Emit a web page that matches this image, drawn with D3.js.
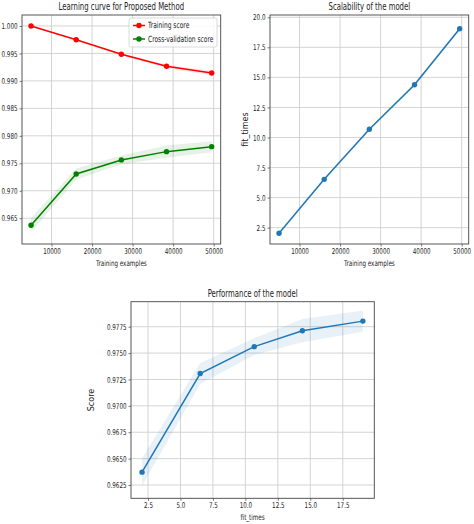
<!DOCTYPE html>
<html>
<head>
<meta charset="utf-8">
<script src="https://cdn.jsdelivr.net/npm/d3@7"></script>
<style>
  body { margin: 0; background: #fff; }
  text { font-family: "DejaVu Sans", sans-serif; fill: #222; }
</style>
</head>
<body>
<svg id="fig" width="474" height="524"></svg>
<script>
// learning curve data
var trainSizes = [4950, 16087, 27225, 38362, 49500];
var trainMean = [1.0000, 0.9975, 0.99485, 0.99266, 0.99145];
var trainStd = [0.00005, 0.0001, 0.0002, 0.0003, 0.0004];
var testMean = [0.96372, 0.97306, 0.97561, 0.97712, 0.97803];
var testStd = [0.0013, 0.0010, 0.0008, 0.0011, 0.0010];
var fitMean = [2.04, 6.52, 10.68, 14.39, 19.05];
var fitStd = [0.06, 0.10, 0.12, 0.14, 0.12];

var sizeTicks = [10000, 20000, 30000, 40000, 50000];
var scoreTicks = [0.965, 0.970, 0.975, 0.980, 0.985, 0.990, 0.995, 1.000];
var fitTicks = [2.5, 5.0, 7.5, 10.0, 12.5, 15.0, 17.5, 20.0];
var perfXTicks = [2.5, 5.0, 7.5, 10.0, 12.5, 15.0, 17.5];
var perfYTicks = [0.9625, 0.9650, 0.9675, 0.9700, 0.9725, 0.9750, 0.9775];

var RED = "#ff0000", GREEN = "#008000", BLUE = "#1f77b4";
var SQ = 0.7; // the picture is squeezed horizontally

var svg = d3.select("#fig");

// squeeze a text horizontally around its own anchor point
function squeeze(sel, k) {
    sel.each(function () {
        var x0 = +(this.getAttribute("x") || 0);
        d3.select(this).attr("transform",
            "translate(" + x0 + ",0) scale(" + k + ",1) translate(" + (-x0) + ",0)");
    });
}

function makePanel(p) {
    var g = svg.append("g");
    var x = d3.scaleLinear().domain(p.xdom).range([p.left, p.right]);
    var y = d3.scaleLinear().domain(p.ydom).range([p.bottom, p.top]);

    // grid
    g.selectAll(".vgrid").data(p.xticks).enter().append("line")
        .attr("x1", function (d) { return x(d); }).attr("x2", function (d) { return x(d); })
        .attr("y1", p.top).attr("y2", p.bottom)
        .attr("stroke", "#cfcfcf").attr("stroke-width", 0.9);
    g.selectAll(".hgrid").data(p.yticks).enter().append("line")
        .attr("y1", function (d) { return y(d); }).attr("y2", function (d) { return y(d); })
        .attr("x1", p.left).attr("x2", p.right)
        .attr("stroke", "#cfcfcf").attr("stroke-width", 0.9);

    var xa = g.append("g").attr("transform", "translate(0," + p.bottom + ")")
        .call(d3.axisBottom(x).tickValues(p.xticks).tickFormat(p.xfmt).tickSize(2.5).tickPadding(2));
    var ya = g.append("g").attr("transform", "translate(" + p.left + ",0)")
        .call(d3.axisLeft(y).tickValues(p.yticks).tickFormat(p.yfmt).tickSize(2.5).tickPadding(2));
    [xa, ya].forEach(function (a) {
        a.select(".domain").remove();
        a.selectAll("line").attr("stroke", "#444").attr("stroke-width", 0.7);
        a.selectAll("text").attr("font-size", 8).attr("font-family", "DejaVu Sans").attr("fill", "#222");
        squeeze(a.selectAll("text"), SQ);
    });

    // frame
    g.append("rect").attr("x", p.left).attr("y", p.top)
        .attr("width", p.right - p.left).attr("height", p.bottom - p.top)
        .attr("fill", "none").attr("stroke", "#444").attr("stroke-width", 0.9);

    // series
    p.series.forEach(function (s) {
        var pts = s.xs.map(function (v, i) { return { x: v, m: s.mean[i], sd: s.std[i] }; });
        var area = d3.area().x(function (d) { return x(d.x); })
            .y0(function (d) { return y(d.m - d.sd); }).y1(function (d) { return y(d.m + d.sd); });
        var line = d3.line().x(function (d) { return x(d.x); }).y(function (d) { return y(d.m); });
        g.append("path").datum(pts).attr("d", area).attr("fill", s.color).attr("fill-opacity", 0.1);
        g.append("path").datum(pts).attr("d", line).attr("fill", "none")
            .attr("stroke", s.color).attr("stroke-width", 1.5);
        g.selectAll(null).data(pts).enter().append("circle")
            .attr("cx", function (d) { return x(d.x); }).attr("cy", function (d) { return y(d.m); })
            .attr("r", 2.7).attr("fill", s.color);
    });

    // title and labels
    var t = g.append("text").attr("x", (p.left + p.right) / 2).attr("y", p.top - 5)
        .attr("text-anchor", "middle").attr("font-size", 10.5).text(p.title);
    squeeze(t, 0.66);
    var xl = g.append("text").attr("x", (p.left + p.right) / 2).attr("y", p.bottom + 22)
        .attr("text-anchor", "middle").attr("font-size", 8).text(p.xlabel);
    squeeze(xl, SQ);
    if (p.ylabel) {
        g.append("text")
            .attr("transform", "translate(" + p.ylabelX + "," + (p.top + p.bottom) / 2 + ") rotate(-90)")
            .attr("text-anchor", "middle").attr("font-size", 8).text(p.ylabel);
    }
    return { g: g, x: x, y: y };
}

var fmt3 = d3.format(".3f"), fmt1 = d3.format(".1f"), fmt4 = d3.format(".4f"), fmt0 = d3.format("d");

var lc = makePanel({
    left: 22, right: 220.7, top: 15, bottom: 244,
    xdom: [2722, 51727], ydom: [0.9603, 1.002],
    xticks: sizeTicks, yticks: scoreTicks, xfmt: fmt0, yfmt: fmt3,
    title: "Learning curve for Proposed Method", xlabel: "Training examples",
    series: [
        { xs: trainSizes, mean: trainMean, std: trainStd, color: RED },
        { xs: trainSizes, mean: testMean, std: testStd, color: GREEN }
    ]
});

// legend
var legendItems = [{ name: "Training score", color: RED }, { name: "Cross-validation score", color: GREEN }];
var lg = lc.g.append("g").attr("transform", "translate(129,18)");
lg.append("rect").attr("width", 88).attr("height", 29).attr("rx", 2)
    .attr("fill", "#fff").attr("fill-opacity", 0.85).attr("stroke", "#d0d0d0").attr("stroke-width", 0.8);
var li = lg.selectAll(".li").data(legendItems).enter().append("g")
    .attr("transform", function (d, i) { return "translate(0," + (7.5 + i * 13.5) + ")"; });
li.append("line").attr("x1", 4).attr("x2", 16).attr("stroke", function (d) { return d.color; }).attr("stroke-width", 1.5);
li.append("circle").attr("cx", 10).attr("r", 2.7).attr("fill", function (d) { return d.color; });
var lt = li.append("text").attr("x", 19).attr("dy", "0.35em").attr("font-size", 8.5)
    .text(function (d) { return d.name; });
squeeze(lt, SQ);

makePanel({
    left: 270, right: 468.7, top: 15, bottom: 244,
    xdom: [2722, 51727], ydom: [1.14, 20.19],
    xticks: sizeTicks, yticks: fitTicks, xfmt: fmt0, yfmt: fmt1,
    title: "Scalability of the model", xlabel: "Training examples",
    ylabel: "fit_times", ylabelX: 248,
    series: [{ xs: trainSizes, mean: fitMean, std: fitStd, color: BLUE }]
});

makePanel({
    left: 131, right: 374.3, top: 301.7, bottom: 498.3,
    xdom: [1.19, 19.93], ydom: [0.96124, 0.97987],
    xticks: perfXTicks, yticks: perfYTicks, xfmt: fmt1, yfmt: fmt4,
    title: "Performance of the model", xlabel: "fit_times",
    ylabel: "Score", ylabelX: 94,
    series: [{ xs: fitMean, mean: testMean, std: testStd, color: BLUE }]
});
</script>
</body>
</html>
